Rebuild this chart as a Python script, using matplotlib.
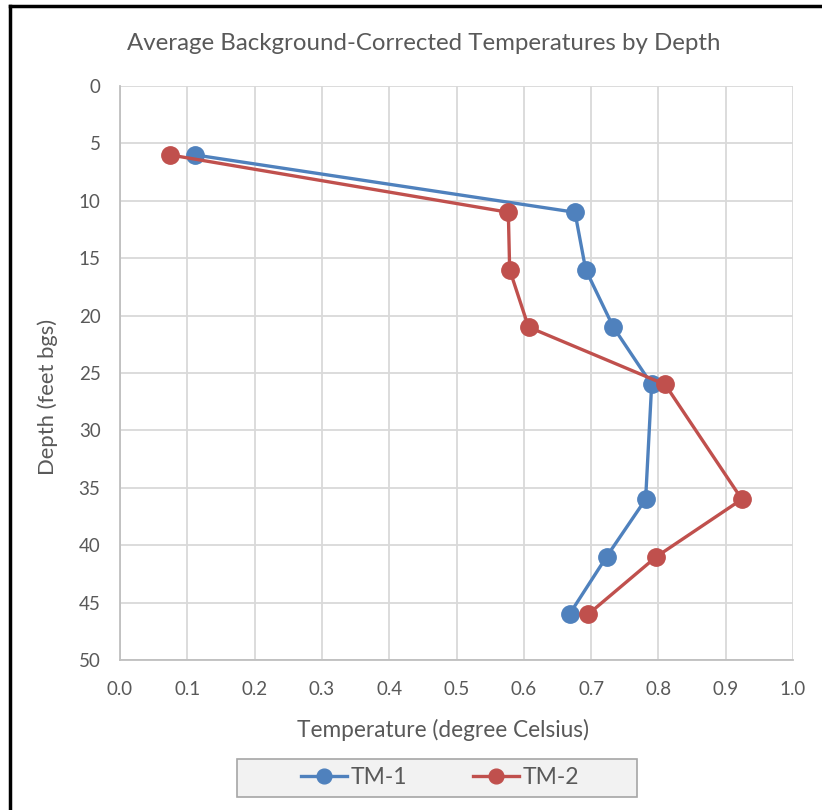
import numpy as np
import matplotlib
matplotlib.use("Agg")
import matplotlib.pyplot as plt
from matplotlib.lines import Line2D
from matplotlib.patches import Rectangle

# values
depth = [6, 11, 16, 21, 26, 36, 41, 46]
tm1 = [0.111, 0.676, 0.692, 0.733, 0.790, 0.781, 0.723, 0.668]
tm2 = [0.074, 0.577, 0.579, 0.607, 0.810, 0.924, 0.797, 0.696]
series_names = ["TM-1", "TM-2"]
x_ticks = [0.0, 0.1, 0.2, 0.3, 0.4, 0.5, 0.6, 0.7, 0.8, 0.9, 1.0]
y_ticks = [0, 5, 10, 15, 20, 25, 30, 35, 40, 45, 50]

blue = "#4F81BD"
red = "#C0504D"
txt = "#595959"
grid = "#D9D9D9"

plt.rcParams["font.family"] = ["Lato", "DejaVu Sans"]

fig = plt.figure(figsize=(8.22, 8.10), dpi=100)
ax = fig.add_axes([120/822, 1-660/810, 673/822, 574/810])

ax.plot(tm1, depth, color=blue, lw=2.4, marker="o", ms=12.5,
        label=series_names[0], zorder=3)
ax.plot(tm2, depth, color=red, lw=2.4, marker="o", ms=12.5,
        label=series_names[1], zorder=3)

ax.set_xlim(0, 1.0)
ax.set_ylim(50, 0)
ax.set_xticks(x_ticks)
ax.set_yticks(y_ticks)
ax.set_xticklabels(["{:.1f}".format(v) for v in x_ticks])
ax.set_yticklabels([str(v) for v in y_ticks])
ax.grid(True, color=grid, lw=1.3)
ax.set_axisbelow(True)
for s in ["top", "right"]:
    ax.spines[s].set_visible(False)
for s in ["left", "bottom"]:
    ax.spines[s].set_color("#BFBFBF")
    ax.spines[s].set_linewidth(1.3)
ax.tick_params(length=0, labelsize=13.5, labelcolor=txt)
ax.tick_params(axis="x", pad=15)
ax.tick_params(axis="y", pad=14)

fig.text(424/822, 1-44/810, "Average Background-Corrected Temperatures by Depth",
         ha="center", va="center", fontsize=17.3, color=txt)
fig.text(443/822, 1-730/810, "Temperature (degree Celsius)",
         ha="center", va="center", fontsize=16.3, color=txt)
fig.text(48/822, 1-397/810, "Depth (feet bgs)", rotation=90,
         ha="center", va="center", fontsize=15.8, color=txt)

# legend box
fig.patches.append(Rectangle((237/822, 1-797/810), 400/822, 38/810,
                             transform=fig.transFigure, facecolor="#F2F2F2",
                             edgecolor="#A6A6A6", lw=1.2))
h, l = ax.get_legend_handles_labels()
fig.legend(h, l, loc="center", bbox_to_anchor=(440/822, 1-778/810), ncol=2,
           frameon=False, fontsize=16.5, handlelength=2.0, handletextpad=0.15,
           columnspacing=2.9, labelcolor=txt, markerscale=0.85)

# black frame on left and top edges
fig.lines.append(Line2D([10/822, 10/822], [0, 1-6/810], transform=fig.transFigure,
                        color="black", lw=2.5))
fig.lines.append(Line2D([10/822, 1], [1-6/810, 1-6/810], transform=fig.transFigure,
                        color="black", lw=2.5))

fig.savefig("out.png", dpi=100)
